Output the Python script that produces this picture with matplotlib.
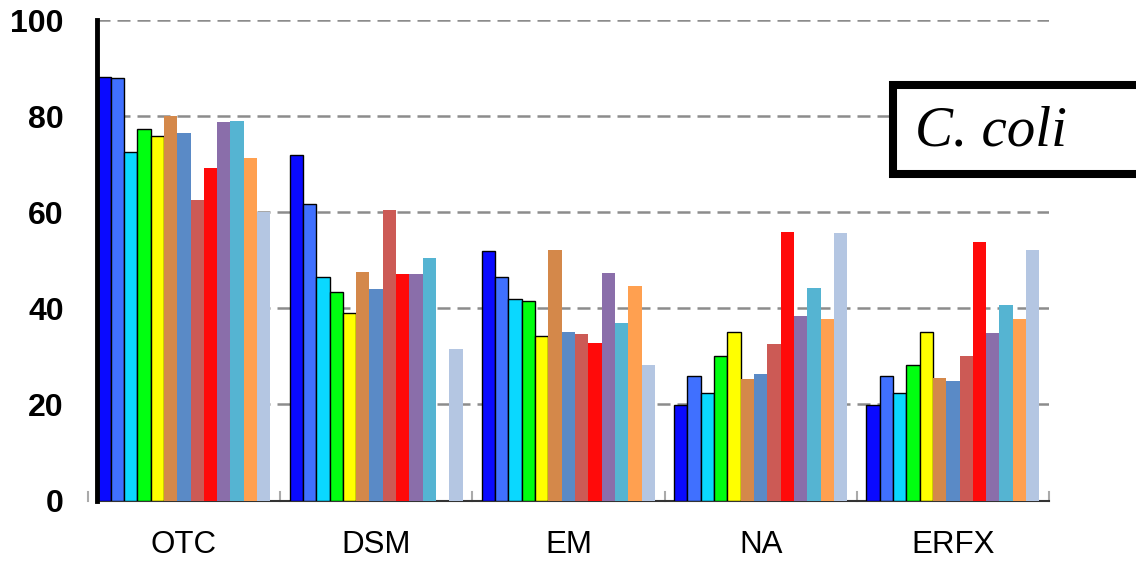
import matplotlib.pyplot as plt
import numpy as np
from matplotlib.patches import Rectangle

# datos
groups = ['OTC', 'DSM', 'EM', 'NA', 'ERFX']
colors = ['#0A0AFF', '#4070FF', '#0AD8FF', '#00FF10', '#FFFF00',
          '#D4884A', '#5A8AC6', '#CC5A55', '#FF0A0A', '#8A6EAA',
          '#55B4D2', '#FFA050', '#B4C6E2']
edged = [True] * 5 + [False] * 8

otc = [88.2, 88.0, 72.6, 77.4, 75.9, 80.0, 76.4, 62.6, 69.1, 78.8, 79.0, 71.3, 60.1]
dsm = [72.0, 61.7, 46.5, 43.3, 39.1, 47.6, 44.0, 60.4, 47.1, 47.2, 50.5, 0.0, 31.6]
em = [51.9, 46.6, 41.9, 41.5, 34.2, 52.1, 35.1, 34.7, 32.8, 47.3, 36.9, 44.6, 28.3]
na = [19.8, 26.0, 22.4, 30.0, 35.1, 25.3, 26.3, 32.5, 55.8, 38.5, 44.2, 37.7, 55.6]
erfx = [19.9, 26.0, 22.4, 28.2, 35.1, 25.5, 24.9, 30.1, 53.7, 34.9, 40.6, 37.8, 52.2]
values = np.array([otc, dsm, em, na, erfx])

yticks = [0, 20, 40, 60, 80, 100]

fig = plt.figure(figsize=(11.36, 5.61), dpi=100)
ax = fig.add_axes([97 / 1136, 60.5 / 561, (1049 - 97) / 1136, 480.5 / 561])

n = len(colors)
w = 0.9 / n
x = np.arange(len(groups))
for j in range(n):
    pos = x - 0.45 + w * (j + 0.5)
    if edged[j]:
        ax.bar(pos, values[:, j], width=w, color=colors[j], edgecolor='black',
               linewidth=1.0, zorder=3)
    else:
        ax.bar(pos, values[:, j], width=w, color=colors[j], linewidth=0, zorder=3)

# lineas de cuadricula
for y in yticks[1:]:
    ax.axhline(y, color='#8c8c8c', linewidth=1.8, dashes=(5.2, 2.8), zorder=1)

# marcas entre grupos
for b in np.arange(-0.5, len(groups), 1.0):
    ax.plot([b, b], [0, 1.8], color='#aaaaaa', linewidth=1.5, clip_on=False, zorder=2)

ax.set_xlim(-0.452, 4.5)
ax.set_ylim(0, 100)
ax.set_xticks(x)
ax.set_xticklabels(groups, fontsize=22.5, family='Liberation Sans')
ax.set_yticks(yticks)
ax.set_yticklabels([str(v) for v in yticks], fontsize=23, fontweight='bold',
                   family='Liberation Sans')
ax.tick_params(axis='x', length=0, pad=21)
ax.tick_params(axis='y', length=0, pad=24)

for s in ['top', 'right']:
    ax.spines[s].set_visible(False)
ax.spines['left'].set_linewidth(3.5)
ax.spines['left'].set_color('black')
ax.spines['left'].set_zorder(5)
ax.spines['bottom'].set_linewidth(1.5)
ax.spines['bottom'].set_color('#333333')

# recuadro de la especie
box = Rectangle((893 / 1136, (561 - 174) / 561), 0.3, 89 / 561,
                transform=fig.transFigure, facecolor='white', edgecolor='black',
                linewidth=5.8, zorder=10, clip_on=False)
fig.patches.append(box)
fig.text(915 / 1136, (561 - 131) / 561, 'C. coli', fontsize=41, style='italic',
         family='Liberation Serif', va='center', ha='left', zorder=11)

fig.savefig('out.png', dpi=100)
